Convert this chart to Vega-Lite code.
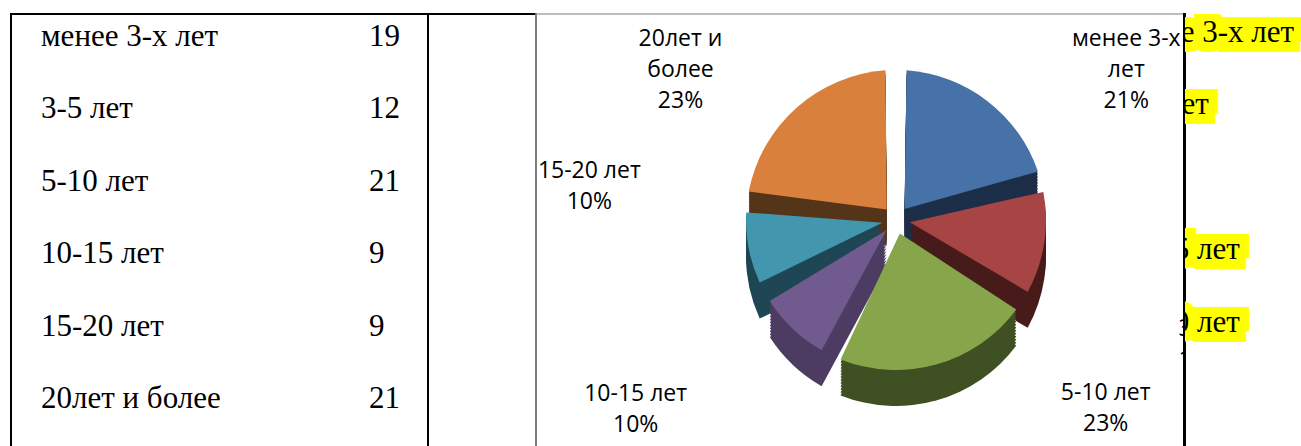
{
  "$schema": "https://vega.github.io/schema/vega-lite/v6.json",
  "padding": {"left": 10, "top": 13, "right": 0, "bottom": 0},
  "background": "white",
  "spacing": 0,
  "bounds": "flush",
  "config": {"view": {"stroke": null}},
  "datasets": {
    "age": [
      {"idx": 1, "cat": "менее 3-х лет", "n": 19, "caption": "менее 3-х\nлет\n21%"},
      {"idx": 2, "cat": "3-5 лет", "n": 12, "caption": "3-5 лет\n13%"},
      {"idx": 3, "cat": "5-10 лет", "n": 21, "caption": "5-10 лет\n23%"},
      {"idx": 4, "cat": "10-15 лет", "n": 9, "caption": "10-15 лет\n10%"},
      {"idx": 5, "cat": "15-20 лет", "n": 9, "caption": "15-20 лет\n10%"},
      {"idx": 6, "cat": "20лет и более", "n": 21, "caption": "20лет и\nболее\n23%"}
    ]
  },
  "hconcat": [
    {
      "width": 417,
      "height": 433,
      "view": {"stroke": "black", "strokeWidth": 2},
      "data": {"name": "age"},
      "encoding": {
        "y": {"field": "cat", "type": "ordinal", "sort": {"field": "idx", "op": "min"}, "scale": {"type": "point", "range": [32, 394], "padding": 0}, "axis": null}
      },
      "layer": [
        {"mark": {"type": "text", "align": "left", "baseline": "alphabetic", "font": "Liberation Serif", "fontSize": 31, "x": 30, "color": "black"},
         "encoding": {"text": {"field": "cat", "type": "nominal"}}},
        {"mark": {"type": "text", "align": "left", "baseline": "alphabetic", "font": "Liberation Serif", "fontSize": 31, "x": 358, "color": "black"},
         "encoding": {"text": {"field": "n", "type": "quantitative"}}}
      ]
    },
    {
      "width": 108,
      "height": 433,
      "view": {"stroke": "black", "strokeWidth": 2},
      "data": {"values": [{}]},
      "mark": {"type": "text", "text": ""}
    },
    {
      "width": 648,
      "height": 433,
      "view": {"stroke": "#a6a6a6", "strokeWidth": 1.5},
      "data": {"name": "age"},
      "encoding": {
        "theta": {"field": "n", "type": "quantitative", "stack": true},
        "order": {"field": "idx", "type": "quantitative"}
      },
      "layer": [
        {"mark": {"type": "arc", "radius": 150, "innerRadius": 14, "padAngle": 0.14, "xOffset": 36, "yOffset": 25.5},
         "encoding": {"color": {"field": "cat", "type": "nominal", "legend": null, "scale": {"domain": ["менее 3-х лет", "3-5 лет", "5-10 лет", "10-15 лет", "15-20 лет", "20лет и более"], "range": ["#1c2e48", "#481b1b", "#3f5022", "#4d3c62", "#1f4655", "#553519"]}}}},
        {"mark": {"type": "arc", "radius": 150, "innerRadius": 14, "padAngle": 0.14, "xOffset": 36, "yOffset": 22.5},
         "encoding": {"color": {"field": "cat", "type": "nominal", "legend": null, "scale": {"domain": ["менее 3-х лет", "3-5 лет", "5-10 лет", "10-15 лет", "15-20 лет", "20лет и более"], "range": ["#1c2e48", "#481b1b", "#3f5022", "#4d3c62", "#1f4655", "#553519"]}}}},
        {"mark": {"type": "arc", "radius": 150, "innerRadius": 14, "padAngle": 0.14, "xOffset": 36, "yOffset": 19.5},
         "encoding": {"color": {"field": "cat", "type": "nominal", "legend": null, "scale": {"domain": ["менее 3-х лет", "3-5 лет", "5-10 лет", "10-15 лет", "15-20 лет", "20лет и более"], "range": ["#1c2e48", "#481b1b", "#3f5022", "#4d3c62", "#1f4655", "#553519"]}}}},
        {"mark": {"type": "arc", "radius": 150, "innerRadius": 14, "padAngle": 0.14, "xOffset": 36, "yOffset": 16.5},
         "encoding": {"color": {"field": "cat", "type": "nominal", "legend": null, "scale": {"domain": ["менее 3-х лет", "3-5 лет", "5-10 лет", "10-15 лет", "15-20 лет", "20лет и более"], "range": ["#1c2e48", "#481b1b", "#3f5022", "#4d3c62", "#1f4655", "#553519"]}}}},
        {"mark": {"type": "arc", "radius": 150, "innerRadius": 14, "padAngle": 0.14, "xOffset": 36, "yOffset": 13.5},
         "encoding": {"color": {"field": "cat", "type": "nominal", "legend": null, "scale": {"domain": ["менее 3-х лет", "3-5 лет", "5-10 лет", "10-15 лет", "15-20 лет", "20лет и более"], "range": ["#1c2e48", "#481b1b", "#3f5022", "#4d3c62", "#1f4655", "#553519"]}}}},
        {"mark": {"type": "arc", "radius": 150, "innerRadius": 14, "padAngle": 0.14, "xOffset": 36, "yOffset": 10.5},
         "encoding": {"color": {"field": "cat", "type": "nominal", "legend": null, "scale": {"domain": ["менее 3-х лет", "3-5 лет", "5-10 лет", "10-15 лет", "15-20 лет", "20лет и более"], "range": ["#1c2e48", "#481b1b", "#3f5022", "#4d3c62", "#1f4655", "#553519"]}}}},
        {"mark": {"type": "arc", "radius": 150, "innerRadius": 14, "padAngle": 0.14, "xOffset": 36, "yOffset": 7.5},
         "encoding": {"color": {"field": "cat", "type": "nominal", "legend": null, "scale": {"domain": ["менее 3-х лет", "3-5 лет", "5-10 лет", "10-15 лет", "15-20 лет", "20лет и более"], "range": ["#1c2e48", "#481b1b", "#3f5022", "#4d3c62", "#1f4655", "#553519"]}}}},
        {"mark": {"type": "arc", "radius": 150, "innerRadius": 14, "padAngle": 0.14, "xOffset": 36, "yOffset": 4.5},
         "encoding": {"color": {"field": "cat", "type": "nominal", "legend": null, "scale": {"domain": ["менее 3-х лет", "3-5 лет", "5-10 лет", "10-15 лет", "15-20 лет", "20лет и более"], "range": ["#1c2e48", "#481b1b", "#3f5022", "#4d3c62", "#1f4655", "#553519"]}}}},
        {"mark": {"type": "arc", "radius": 150, "innerRadius": 14, "padAngle": 0.14, "xOffset": 36, "yOffset": 1.5},
         "encoding": {"color": {"field": "cat", "type": "nominal", "legend": null, "scale": {"domain": ["менее 3-х лет", "3-5 лет", "5-10 лет", "10-15 лет", "15-20 лет", "20лет и более"], "range": ["#1c2e48", "#481b1b", "#3f5022", "#4d3c62", "#1f4655", "#553519"]}}}},
        {"mark": {"type": "arc", "radius": 150, "innerRadius": 14, "padAngle": 0.14, "xOffset": 36, "yOffset": -1.5},
         "encoding": {"color": {"field": "cat", "type": "nominal", "legend": null, "scale": {"domain": ["менее 3-х лет", "3-5 лет", "5-10 лет", "10-15 лет", "15-20 лет", "20лет и более"], "range": ["#1c2e48", "#481b1b", "#3f5022", "#4d3c62", "#1f4655", "#553519"]}}}},
        {"mark": {"type": "arc", "radius": 150, "innerRadius": 14, "padAngle": 0.14, "xOffset": 36, "yOffset": -4.5},
         "encoding": {"color": {"field": "cat", "type": "nominal", "legend": null, "scale": {"domain": ["менее 3-х лет", "3-5 лет", "5-10 лет", "10-15 лет", "15-20 лет", "20лет и более"], "range": ["#1c2e48", "#481b1b", "#3f5022", "#4d3c62", "#1f4655", "#553519"]}}}},
        {"mark": {"type": "arc", "radius": 150, "innerRadius": 14, "padAngle": 0.14, "xOffset": 36, "yOffset": -7.5},
         "encoding": {"color": {"field": "cat", "type": "nominal", "legend": null, "scale": {"domain": ["менее 3-х лет", "3-5 лет", "5-10 лет", "10-15 лет", "15-20 лет", "20лет и более"], "range": ["#1c2e48", "#481b1b", "#3f5022", "#4d3c62", "#1f4655", "#553519"]}}}},
        {"mark": {"type": "arc", "radius": 150, "innerRadius": 14, "padAngle": 0.14, "xOffset": 36, "yOffset": -10.5},
         "encoding": {"color": {"field": "cat", "type": "nominal", "legend": null, "scale": {"domain": ["менее 3-х лет", "3-5 лет", "5-10 лет", "10-15 лет", "15-20 лет", "20лет и более"], "range": ["#4672a8", "#a64543", "#87a64b", "#715a8e", "#4297ae", "#d9813c"]}}}},
        {"mark": {"type": "text", "radius": 230, "dx": 126, "dy": -9, "font": "Open Sans", "fontSize": 23, "lineBreak": "\n", "lineHeight": 31, "baseline": "middle", "align": "center", "clip": true, "color": "black"},
         "encoding": {"text": {"condition": {"test": "datum.idx === 1", "field": "caption", "type": "nominal"}, "value": ""}}},
        {"mark": {"type": "text", "radius": 290, "dx": 32, "dy": 54, "font": "Open Sans", "fontSize": 23, "lineBreak": "\n", "lineHeight": 31, "baseline": "middle", "align": "left", "clip": true, "color": "black"},
         "encoding": {"text": {"condition": {"test": "datum.idx === 2", "field": "caption", "type": "nominal"}, "value": ""}}},
        {"mark": {"type": "text", "radius": 230, "dx": 183, "dy": -58.5, "font": "Open Sans", "fontSize": 23, "lineBreak": "\n", "lineHeight": 31, "baseline": "middle", "align": "center", "clip": true, "color": "black"},
         "encoding": {"text": {"condition": {"test": "datum.idx === 3", "field": "caption", "type": "nominal"}, "value": ""}}},
        {"mark": {"type": "text", "radius": 230, "dx": -66, "dy": -3.5, "font": "Open Sans", "fontSize": 23, "lineBreak": "\n", "lineHeight": 31, "baseline": "middle", "align": "center", "clip": true, "color": "black"},
         "encoding": {"text": {"condition": {"test": "datum.idx === 4", "field": "caption", "type": "nominal"}, "value": ""}}},
        {"mark": {"type": "text", "radius": 240, "dx": -35, "dy": -104.5, "font": "Open Sans", "fontSize": 23, "lineBreak": "\n", "lineHeight": 31, "baseline": "middle", "align": "center", "clip": true, "color": "black"},
         "encoding": {"text": {"condition": {"test": "datum.idx === 5", "field": "caption", "type": "nominal"}, "value": ""}}},
        {"mark": {"type": "text", "radius": 230, "dx": -27, "dy": -19, "font": "Open Sans", "fontSize": 23, "lineBreak": "\n", "lineHeight": 31, "baseline": "middle", "align": "center", "clip": true, "color": "black"},
         "encoding": {"text": {"condition": {"test": "datum.idx === 6", "field": "caption", "type": "nominal"}, "value": ""}}}
      ],
      "resolve": {"scale": {"color": "independent"}}
    },
    {
      "width": 1,
      "height": 433,
      "view": {"stroke": "black", "strokeWidth": 2},
      "data": {"values": [{}]},
      "mark": {"type": "text", "text": ""}
    },
    {
      "width": 117,
      "height": 433,
      "data": {"name": "age"},
      "transform": [{"filter": {"field": "idx", "oneOf": [1, 2, 4, 5]}}],
      "encoding": {
        "y": {"field": "cat", "type": "ordinal", "scale": {"type": "point", "domain": ["менее 3-х лет", "3-5 лет", "5-10 лет", "10-15 лет", "15-20 лет", "20лет и более"], "range": [28, 390], "padding": 0}, "axis": null},
        "text": {"field": "cat", "type": "nominal"}
      },
      "layer": [
        {"mark": {"type": "text", "align": "left", "baseline": "alphabetic", "font": "Liberation Serif", "fontSize": 31, "x": -68, "clip": true, "fill": "#ffff00", "stroke": "#ffff00", "strokeWidth": 20, "strokeJoin": "miter", "strokeMiterLimit": 2}},
        {"mark": {"type": "text", "align": "left", "baseline": "alphabetic", "font": "Liberation Serif", "fontSize": 31, "x": -68, "clip": true, "fill": "black"}}
      ]
    }
  ]
}
